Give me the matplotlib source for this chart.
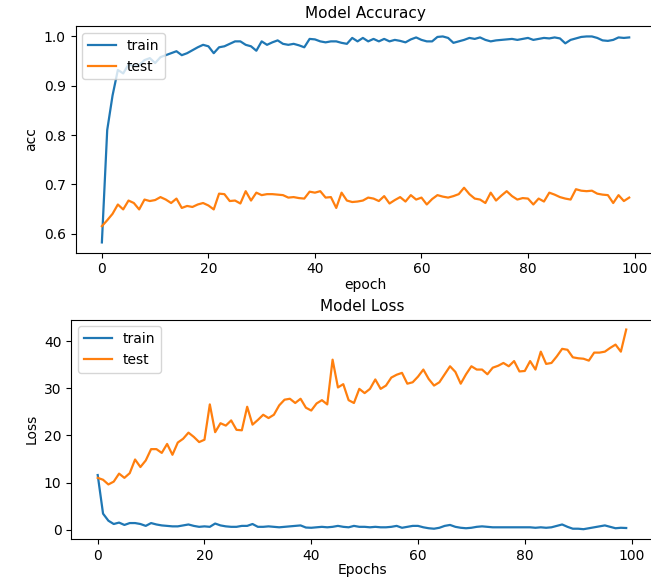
# -*- coding: utf-8 -*-
"""
plot.py

training history: accuracy and loss per epoch
"""
from matplotlib import pyplot as plt
import numpy as np

epochs = list(range(100))

train_acc = [
    0.582, 0.81, 0.88, 0.932, 0.925, 0.943, 0.94, 0.942, 0.952, 0.956,
    0.946, 0.958, 0.962, 0.966, 0.97, 0.962, 0.966, 0.972, 0.978, 0.983,
    0.98, 0.966, 0.978, 0.98, 0.985, 0.99, 0.99, 0.983, 0.98, 0.971,
    0.99, 0.983, 0.988, 0.992, 0.985, 0.983, 0.985, 0.982, 0.978, 0.995,
    0.994, 0.99, 0.988, 0.99, 0.99, 0.987, 0.985, 0.997, 0.99, 0.997,
    0.99, 0.995, 0.99, 0.995, 0.99, 0.993, 0.991, 0.988, 0.994, 0.998,
    0.993, 0.99, 0.99, 0.999, 1.0, 0.997, 0.987, 0.99, 0.993, 0.997,
    0.995, 0.998, 0.993, 0.99, 0.992, 0.993, 0.994, 0.995, 0.993, 0.995,
    0.997, 0.993, 0.995, 0.997, 0.996, 0.998, 0.996, 0.986, 0.993, 0.996,
    0.999, 1.0, 1.0, 0.997, 0.992, 0.991, 0.993, 0.998, 0.997, 0.998,
]

test_acc = [
    0.615, 0.627, 0.64, 0.659, 0.649, 0.667, 0.662, 0.649, 0.669, 0.666,
    0.668, 0.674, 0.669, 0.662, 0.671, 0.652, 0.656, 0.654, 0.659, 0.662,
    0.657, 0.649, 0.681, 0.68, 0.666, 0.667, 0.661, 0.686, 0.667, 0.683,
    0.678, 0.68, 0.68, 0.679, 0.678, 0.673, 0.674, 0.672, 0.671, 0.685,
    0.683, 0.686, 0.673, 0.674, 0.652, 0.683, 0.667, 0.664, 0.665, 0.667,
    0.673, 0.671, 0.666, 0.676, 0.661, 0.668, 0.674, 0.665, 0.678, 0.669,
    0.673, 0.659, 0.67, 0.678, 0.675, 0.673, 0.676, 0.68, 0.693, 0.68,
    0.671, 0.669, 0.662, 0.683, 0.667, 0.677, 0.686, 0.676, 0.669, 0.672,
    0.671, 0.659, 0.671, 0.665, 0.683, 0.679, 0.674, 0.671, 0.669, 0.69,
    0.687, 0.686, 0.687, 0.681, 0.679, 0.678, 0.662, 0.678, 0.666, 0.673,
]

train_loss = [
    11.6, 3.4, 1.9, 1.2, 1.5, 1.0, 1.4, 1.4, 1.2, 0.8,
    1.4, 1.1, 0.9, 0.8, 0.7, 0.7, 0.9, 1.1, 0.8, 0.6,
    0.7, 0.6, 1.3, 0.9, 0.7, 0.6, 0.6, 0.8, 0.8, 1.2,
    0.6, 0.6, 0.7, 0.6, 0.5, 0.6, 0.7, 0.8, 0.9, 0.45,
    0.4, 0.5, 0.6, 0.5, 0.6, 0.8, 0.6, 0.5, 0.8, 0.6,
    0.6, 0.5, 0.6, 0.5, 0.5, 0.6, 0.8, 0.4, 0.6, 0.8,
    0.8, 0.5, 0.3, 0.2, 0.4, 0.8, 1.0, 0.6, 0.4, 0.3,
    0.4, 0.6, 0.7, 0.6, 0.5, 0.5, 0.5, 0.5, 0.5, 0.5,
    0.5, 0.5, 0.4, 0.5, 0.4, 0.5, 0.8, 1.1, 0.6, 0.2,
    0.2, 0.1, 0.3, 0.5, 0.7, 0.9, 0.6, 0.3, 0.4, 0.35,
]

test_loss = [
    11.0, 10.6, 9.6, 10.2, 11.9, 11.0, 12.0, 14.9, 13.3, 14.7,
    17.1, 17.1, 16.3, 18.2, 15.9, 18.5, 19.3, 20.6, 19.7, 18.6,
    19.1, 26.6, 20.7, 22.6, 22.1, 23.2, 21.2, 21.1, 26.1, 22.3,
    23.3, 24.4, 23.7, 24.4, 26.4, 27.6, 27.8, 26.9, 27.8, 25.9,
    25.3, 26.8, 27.5, 26.6, 36.1, 30.2, 30.9, 27.5, 26.9, 29.9,
    29.0, 29.9, 31.9, 29.9, 30.6, 32.3, 32.9, 33.3, 31.0, 31.3,
    32.5, 34.0, 32.0, 30.6, 31.3, 33.0, 34.7, 33.5, 31.0, 33.0,
    34.7, 34.0, 34.0, 33.0, 34.4, 34.8, 35.4, 34.7, 35.8, 33.6,
    33.7, 35.8, 34.0, 37.8, 35.2, 35.4, 36.8, 38.4, 38.2, 36.6,
    36.4, 36.3, 35.9, 37.6, 37.6, 37.8, 38.6, 39.3, 37.8, 42.5,
]

fig = plt.figure(figsize=(6.51, 5.81), dpi=100)

# top panel: accuracy
ax1 = fig.add_axes([0.116, 0.565, 0.891, 0.39])
ax1.plot(epochs, train_acc, label='train', lw=1.6)
ax1.plot(epochs, test_acc, label='test', lw=1.6)
ax1.set_title('Model Accuracy', fontsize=11)
ax1.set_xlabel('epoch', fontsize=10, labelpad=1)
ax1.set_ylabel('acc', fontsize=10)
ax1.tick_params(labelsize=10)
ax1.legend(loc='upper left', fontsize=10)

# bottom panel: loss
ax2 = fig.add_axes([0.1095, 0.072, 0.893, 0.378])
ax2.plot(epochs, train_loss, label='train', lw=1.6)
ax2.plot(epochs, test_loss, label='test', lw=1.6)
ax2.set_title('Model Loss', fontsize=11)
ax2.set_xlabel('Epochs', fontsize=10, labelpad=0)
ax2.set_ylabel('Loss', fontsize=10)
ax2.tick_params(labelsize=10)
ax2.legend(loc='upper left', fontsize=10)

fig.savefig('out.png', dpi=100)
